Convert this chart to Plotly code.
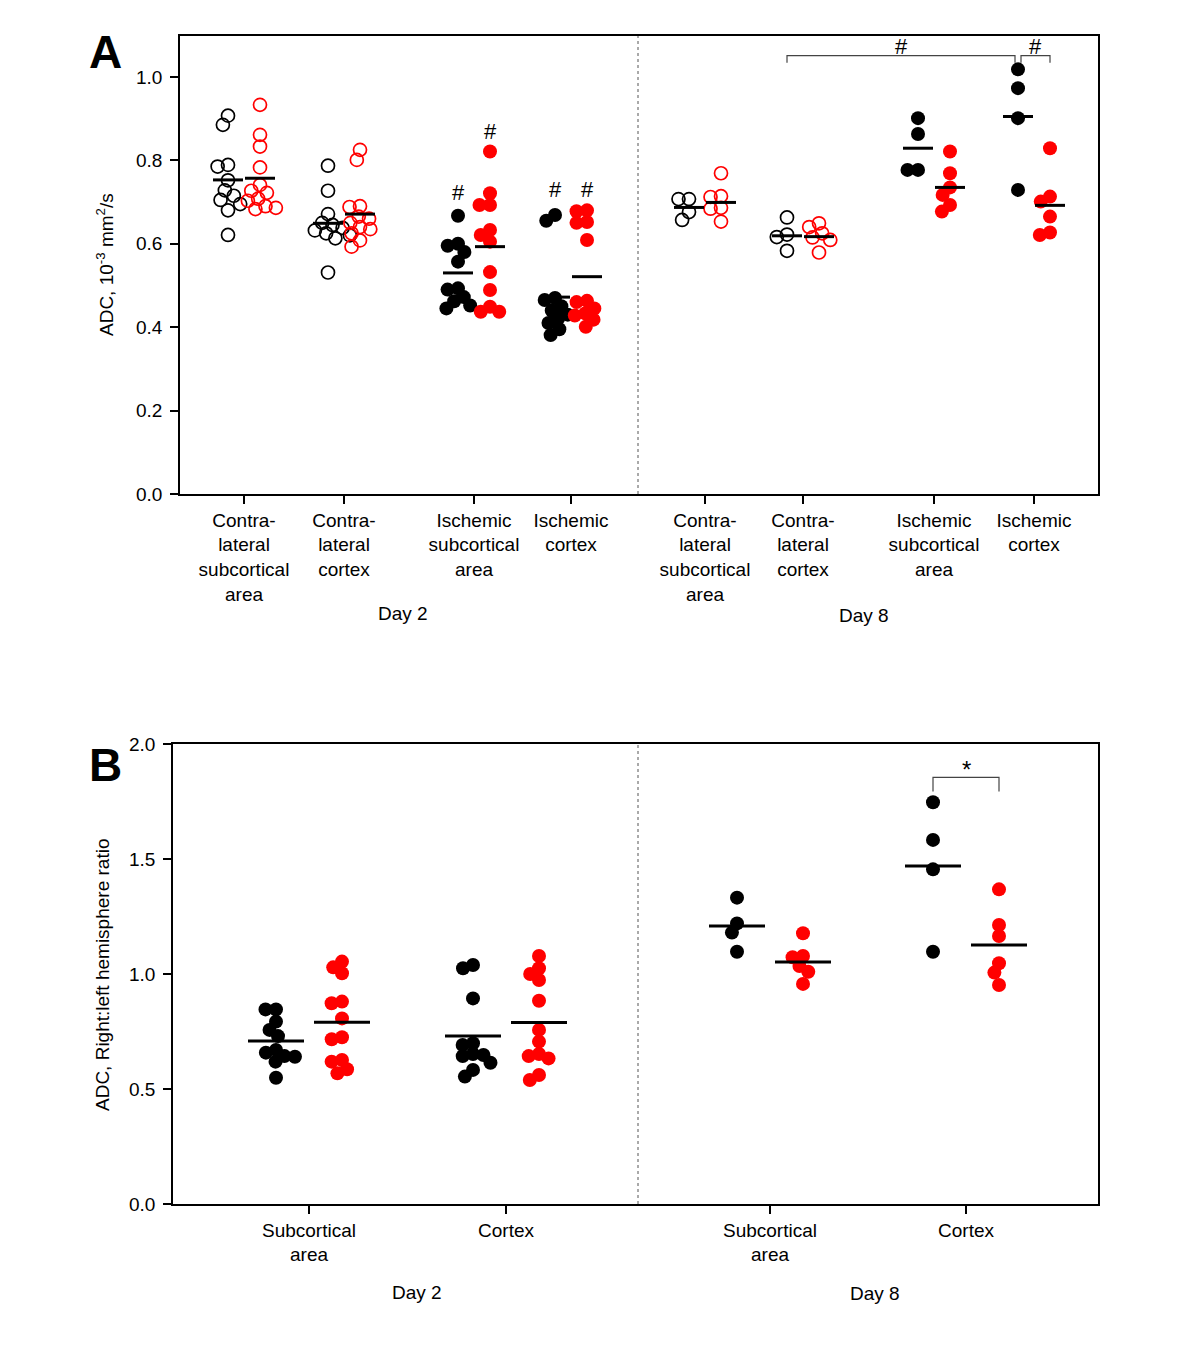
import math
import plotly.graph_objects as go

# ---------------- data ----------------
A_labels = ["Contra-<br>lateral<br>subcortical<br>area", "Contra-<br>lateral<br>cortex",
            "Ischemic<br>subcortical<br>area", "Ischemic<br>cortex",
            "Contra-<br>lateral<br>subcortical<br>area", "Contra-<br>lateral<br>cortex",
            "Ischemic<br>subcortical<br>area", "Ischemic<br>cortex"]
A_open = [True, True, False, False, True, True, False, False]

A_black = [
    [0.907, 0.885, 0.789, 0.785, 0.752, 0.728, 0.715, 0.705, 0.695, 0.680, 0.621],
    [0.787, 0.727, 0.671, 0.650, 0.645, 0.638, 0.632, 0.625, 0.620, 0.613, 0.531],
    [0.667, 0.600, 0.595, 0.580, 0.557, 0.493, 0.490, 0.472, 0.462, 0.452, 0.445],
    [0.669, 0.655, 0.470, 0.465, 0.450, 0.440, 0.430, 0.420, 0.410, 0.395, 0.381],
    [0.707, 0.707, 0.676, 0.657],
    [0.663, 0.622, 0.616, 0.583],
    [0.901, 0.863, 0.777, 0.777],
    [1.018, 0.973, 0.901, 0.729],
]
A_red = [
    [0.933, 0.861, 0.833, 0.783, 0.741, 0.727, 0.722, 0.708, 0.703, 0.690, 0.686, 0.683],
    [0.825, 0.801, 0.690, 0.688, 0.665, 0.660, 0.650, 0.640, 0.635, 0.625, 0.608, 0.593],
    [0.821, 0.721, 0.693, 0.693, 0.633, 0.621, 0.605, 0.532, 0.489, 0.449, 0.437, 0.437],
    [0.680, 0.678, 0.652, 0.650, 0.609, 0.463, 0.460, 0.445, 0.433, 0.428, 0.418, 0.401],
    [0.769, 0.714, 0.712, 0.686, 0.684, 0.653],
    [0.649, 0.640, 0.625, 0.615, 0.609, 0.579],
    [0.821, 0.769, 0.735, 0.717, 0.693, 0.677],
    [0.829, 0.713, 0.701, 0.665, 0.627, 0.621],
]
A_mean_black = [0.753, 0.649, 0.530, 0.472, 0.687, 0.619, 0.829, 0.905]
A_mean_red = [0.757, 0.671, 0.593, 0.521, 0.699, 0.617, 0.735, 0.692]
A_yticks = [0.0, 0.2, 0.4, 0.6, 0.8, 1.0]

B_labels = ["Subcortical<br>area", "Cortex", "Subcortical<br>area", "Cortex"]
B_black = [
    [0.846, 0.846, 0.793, 0.757, 0.730, 0.670, 0.658, 0.643, 0.640, 0.619, 0.549],
    [1.039, 1.025, 0.894, 0.699, 0.691, 0.652, 0.648, 0.643, 0.614, 0.583, 0.554],
    [1.332, 1.220, 1.180, 1.097],
    [1.747, 1.583, 1.455, 1.097],
]
B_red = [
    [1.054, 1.029, 1.003, 0.880, 0.873, 0.807, 0.725, 0.716, 0.626, 0.619, 0.586, 0.568],
    [1.078, 1.025, 1.000, 0.974, 0.884, 0.757, 0.706, 0.652, 0.643, 0.633, 0.561, 0.539],
    [1.177, 1.078, 1.073, 1.035, 1.010, 0.957],
    [1.368, 1.213, 1.165, 1.047, 1.006, 0.952],
]
B_mean_black = [0.709, 0.730, 1.209, 1.470]
B_mean_red = [0.790, 0.789, 1.052, 1.126]
B_yticks = [0.0, 0.5, 1.0, 1.5, 2.0]

# ---------------- layout constants ----------------
PAGE_W, PAGE_H = 1200, 1357
OFF = 8                      # browser body margin
W, H = PAGE_W - 2 * OFF, PAGE_H - 2 * OFF
FONT = "Arial, Liberation Sans, sans-serif"
RED = "#ff0000"


def px(x):
    return (x - OFF) / W


def py(y):
    return 1 - (y - OFF) / H


A_pos = [244, 344, 474, 571, 705, 803, 934, 1034]
A_off = 16
A_bar = 30
B_pos = [309, 506, 770, 966]
B_off = 33
B_bar = 56
A_xr = [180, 1098]
A_yr = [0, 1.098]
A_px = (494 - 36) / (A_yr[1] - A_yr[0])
B_xr = [173, 1098]
B_yr = [0, 2.0]
B_px = (1204 - 744) / (B_yr[1] - B_yr[0])
DIAM = 10.5


def swarm(values, center, scale, d=DIAM):
    placed = []
    xs = [0.0] * len(values)
    order = sorted(range(len(values)), key=lambda i: -values[i])
    for i in order:
        yy = values[i] * scale
        cands = [0.0]
        for (qx, qy) in placed:
            dy = abs(yy - qy)
            if dy < d:
                h = math.sqrt(d * d - dy * dy)
                cands += [qx + h, qx - h]
        cands.sort(key=lambda c: (abs(c), c))
        chosen = 0.0
        for c in cands:
            if all((c - qx) ** 2 + (yy - qy) ** 2 >= d * d - 1e-6 for qx, qy in placed):
                chosen = c
                break
        placed.append((chosen, yy))
        xs[i] = center + chosen
    return xs


fig = go.Figure()


def add_group(vals, center, scale, color, open_, xa, ya):
    xs = swarm(vals, center, scale)
    if open_:
        marker = dict(symbol="circle-open", size=13, color=color, line=dict(width=1.7, color=color))
    else:
        marker = dict(symbol="circle", size=14, color=color, line=dict(width=0))
    fig.add_trace(go.Scatter(x=xs, y=vals, mode="markers", marker=marker,
                             xaxis=xa, yaxis=ya, showlegend=False, hoverinfo="y"))


def add_means(centers, means, width, xa, ya):
    xs, ys = [], []
    for c, m in zip(centers, means):
        xs += [c - width / 2, c + width / 2, None]
        ys += [m, m, None]
    fig.add_trace(go.Scatter(x=xs, y=ys, mode="lines", line=dict(color="black", width=3),
                             xaxis=xa, yaxis=ya, showlegend=False, hoverinfo="skip"))


# Panel A
for i, c in enumerate(A_pos):
    add_group(A_black[i], c - A_off, A_px, "black", A_open[i], "x", "y")
    add_group(A_red[i], c + A_off, A_px, RED, A_open[i], "x", "y")
add_means([c - A_off for c in A_pos], A_mean_black, A_bar, "x", "y")
add_means([c + A_off for c in A_pos], A_mean_red, A_bar, "x", "y")

# Panel B
for i, c in enumerate(B_pos):
    add_group(B_black[i], c - B_off, B_px, "black", False, "x2", "y2")
    add_group(B_red[i], c + B_off, B_px, RED, False, "x2", "y2")
add_means([c - B_off for c in B_pos], B_mean_black, B_bar, "x2", "y2")
add_means([c + B_off for c in B_pos], B_mean_red, B_bar, "x2", "y2")

axis_common = dict(showline=True, linecolor="black", linewidth=1.5, mirror=True,
                   ticks="outside", ticklen=8, tickwidth=1.5, tickcolor="black",
                   showgrid=False, zeroline=False, fixedrange=True, automargin=False,
                   tickfont=dict(family=FONT, size=19, color="black"))

fig.update_layout(
    template="none",
    width=W, height=H, margin=dict(l=0, r=0, t=0, b=0, pad=0), autosize=False,
    paper_bgcolor="white", plot_bgcolor="white", showlegend=False,
    font=dict(family=FONT, size=19, color="black"),
    xaxis=dict(axis_common, domain=[px(A_xr[0]), px(A_xr[1])], range=A_xr, anchor="y",
               tickmode="array", tickvals=A_pos, ticktext=A_labels),
    yaxis=dict(axis_common, domain=[py(494), py(36)], range=A_yr, anchor="x",
               tickmode="array", tickvals=A_yticks, ticktext=[f"{v:.1f}" for v in A_yticks],
               ticklabelstandoff=4),
    xaxis2=dict(axis_common, domain=[px(B_xr[0]), px(B_xr[1])], range=B_xr, anchor="y2",
                tickmode="array", tickvals=B_pos, ticktext=B_labels),
    yaxis2=dict(axis_common, domain=[py(1204), py(744)], range=B_yr, anchor="x2",
                tickmode="array", tickvals=B_yticks, ticktext=[f"{v:.1f}" for v in B_yticks],
                ticklabelstandoff=4),
)

# dotted dividers between Day 2 and Day 8
for xr, yr in (("x", "y domain"), ("x2", "y2 domain")):
    fig.add_shape(type="line", xref=xr, yref=yr, x0=638, x1=638, y0=0, y1=1,
                  line=dict(color="#555555", width=1, dash="dot"))

ann = []


def paper_text(text, x, y, size=19, angle=0):
    ann.append(dict(text=text, x=px(x), y=py(y), xref="paper", yref="paper",
                    xanchor="center", yanchor="middle", showarrow=False, textangle=angle,
                    font=dict(family=FONT, size=size, color="black")))


# panel letters
paper_text("<b>A</b>", 105, 52, 46)
paper_text("<b>B</b>", 105, 765, 46)
# y titles
paper_text("ADC, 10<sup>-3</sup> mm<sup>2</sup>/s", 105, 265, 19, -90)
paper_text("ADC, Right:left hemisphere ratio", 102, 975, 19, -90)
# day labels
for txt, x, y in (("Day 2", 403, 614), ("Day 8", 864, 615), ("Day 2", 417, 1292), ("Day 8", 875, 1293)):
    paper_text(txt, x, y)


def data_text(text, x, y, xa, ya, size=22):
    ann.append(dict(text=text, x=x, y=y, xref=xa, yref=ya, xanchor="center", yanchor="middle",
                    showarrow=False, font=dict(family=FONT, size=size, color="black")))


# significance marks in panel A (day 2)
hash_marks = [(A_pos[2] - A_off, 0.722), (A_pos[2] + A_off, 0.869),
              (A_pos[3] - A_off, 0.729), (A_pos[3] + A_off, 0.729)]
for x, y in hash_marks:
    data_text("#", x, y, "x", "y")

# brackets panel A (day 8)
yb_top, yb_bot = 1.051, 1.034
br1 = (A_pos[5] - A_off, A_pos[7] - A_off - 3)
br2 = (A_pos[7] - A_off + 3, A_pos[7] + A_off)
for x0, x1 in (br1, br2):
    fig.add_shape(type="path", xref="x", yref="y",
                  path=f"M {x0},{yb_bot} L {x0},{yb_top} L {x1},{yb_top} L {x1},{yb_bot}",
                  line=dict(color="#444444", width=1.2))
    data_text("#", (x0 + x1) / 2, yb_top + 0.022, "x", "y")

# bracket panel B
bx0, bx1 = B_pos[3] - B_off, B_pos[3] + B_off
fig.add_shape(type="path", xref="x2", yref="y2",
              path=f"M {bx0},1.793 L {bx0},1.855 L {bx1},1.855 L {bx1},1.793",
              line=dict(color="#444444", width=1.2))
data_text("*", (bx0 + bx1) / 2, 1.89, "x2", "y2", 24)

fig.update_layout(annotations=ann)
fig.write_html("out.html")
